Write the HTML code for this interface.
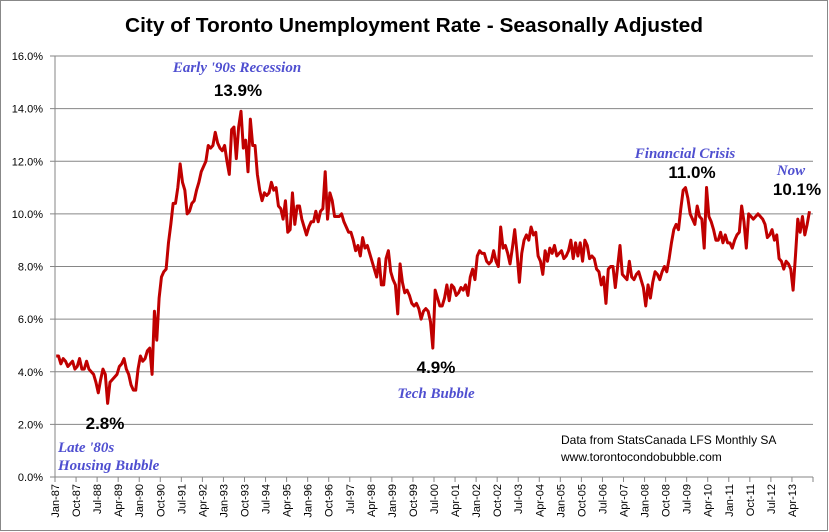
<!DOCTYPE html>
<html><head><meta charset="utf-8"><style>
html,body{margin:0;padding:0;background:#fff}
svg{display:block;font-family:"Liberation Sans",sans-serif}
</style></head><body>
<svg id="chart" width="829" height="532" viewBox="0 0 829 532" xmlns="http://www.w3.org/2000/svg">
<rect x="0.5" y="0.5" width="827" height="530" fill="#fff" stroke="#888" stroke-width="1"/>
<text x="414" y="32" text-anchor="middle" font-size="20" font-weight="bold" textLength="578" lengthAdjust="spacingAndGlyphs">City of Toronto Unemployment Rate - Seasonally Adjusted</text>
<g id="grid"></g>
<g id="yaxis"></g>
<g id="xaxis"></g>
<g id="series"></g>
<g font-family="Liberation Serif,serif" font-style="italic" font-weight="bold" fill="#4f4fd0" font-size="15">
<text x="237" y="72" text-anchor="middle">Early '90s Recession</text>
<text x="58" y="452">Late '80s</text>
<text x="58" y="470">Housing Bubble</text>
<text x="436" y="398" text-anchor="middle">Tech Bubble</text>
<text x="685" y="158" text-anchor="middle">Financial Crisis</text>
<text x="791" y="175" text-anchor="middle">Now</text>
</g>
<g font-weight="bold" font-size="17" fill="#000">
<text x="238" y="96" text-anchor="middle">13.9%</text>
<text x="105" y="429" text-anchor="middle">2.8%</text>
<text x="436" y="373" text-anchor="middle">4.9%</text>
<text x="692" y="178" text-anchor="middle">11.0%</text>
<text x="797" y="195" text-anchor="middle">10.1%</text>
</g>
<text x="561" y="444" font-size="12">Data from StatsCanada LFS Monthly SA</text>
<text x="561" y="461" font-size="12">www.torontocondobubble.com</text>
</svg>
<script>
const years = [1987,1988,1989,1990,1991,1992,1993,1994,1995,1996,1997,1998,1999,2000,2001,2002,2003,2004,2005,2006,2007,2008,2009,2010,2011,2012,2013];
const rate1987 = [4.6,4.6,4.3,4.5,4.4,4.2,4.3,4.4,4.1,4.2,4.5,4.1];
const rate1988 = [4.1,4.4,4.1,4.0,3.9,3.6,3.2,3.7,4.1,3.9,2.8,3.6];
const rate1989 = [3.7,3.8,3.9,4.2,4.3,4.5,4.1,3.9,3.5,3.3,3.3,4.1];
const rate1990 = [4.6,4.4,4.5,4.8,4.9,3.9,6.3,5.2,6.8,7.6,7.8,7.9];
const rate1991 = [8.9,9.6,10.4,10.4,11.0,11.9,11.2,10.9,10.0,10.1,10.4,10.5];
const rate1992 = [10.9,11.2,11.6,11.8,12.0,12.6,12.5,12.6,13.1,12.7,12.5,12.4];
const rate1993 = [12.6,12.0,11.5,13.2,13.3,12.1,13.3,13.9,12.5,12.8,11.6,13.6];
const rate1994 = [12.6,12.6,11.5,10.9,10.5,10.8,10.7,10.8,11.2,10.9,11.0,10.3];
const rate1995 = [10.2,9.8,10.5,9.3,9.4,10.8,9.6,10.3,10.3,9.8,9.5,9.2];
const rate1996 = [9.5,9.7,9.7,10.1,9.7,10.1,10.2,11.6,9.8,10.8,10.5,9.9];
const rate1997 = [9.9,9.9,10.0,9.7,9.5,9.3,9.3,9.0,8.6,8.8,8.4,9.1];
const rate1998 = [8.7,8.8,8.5,8.2,7.9,7.6,8.3,7.3,7.3,8.3,8.6,7.8];
const rate1999 = [7.5,7.3,6.2,8.1,7.4,7.0,7.1,6.9,6.6,6.5,6.6,6.4];
const rate2000 = [6.0,6.3,6.4,6.3,5.9,4.9,7.1,6.8,6.5,6.5,6.8,7.3];
const rate2001 = [6.7,7.3,7.2,6.9,7.0,7.2,7.1,7.3,6.9,7.6,7.9,7.5];
const rate2002 = [8.4,8.6,8.5,8.5,8.2,8.1,8.2,8.6,8.2,8.0,9.5,8.7];
const rate2003 = [8.8,8.5,8.1,8.7,9.4,8.5,7.4,8.5,9.0,9.2,9.0,9.5];
const rate2004 = [9.2,9.3,8.4,8.2,7.7,8.6,8.2,8.7,8.5,8.8,8.4,8.5];
const rate2005 = [8.6,8.3,8.4,8.6,9.0,8.3,8.9,8.4,8.9,8.2,9.0,8.8];
const rate2006 = [8.3,8.4,8.3,7.9,7.8,7.3,7.6,6.6,7.9,8.0,8.0,7.2];
const rate2007 = [8.0,8.8,7.7,7.6,7.5,8.2,7.6,7.5,7.7,7.8,7.5,7.2];
const rate2008 = [6.5,7.3,6.8,7.4,7.8,7.7,7.5,7.8,8.0,7.8,8.3,8.9];
const rate2009 = [9.4,9.6,9.4,10.2,10.9,11.0,10.6,10.0,9.8,9.6,10.3,9.9];
const rate2010 = [9.8,8.7,11.0,9.9,9.7,9.4,9.0,9.0,9.3,8.9,9.2,8.9];
const rate2011 = [8.9,8.7,9.0,9.2,9.3,10.3,9.7,8.7,10.0,9.9,9.8,9.9];
const rate2012 = [10.0,9.9,9.8,9.6,9.1,9.2,9.4,9.0,9.2,8.3,8.2,7.9];
const rate2013 = [8.2,8.1,7.9,7.1,8.4,9.8,9.3,9.9,9.2,9.6,10.1];
const yTicks = [0,2,4,6,8,10,12,14,16];
const monthNames = ["Jan","Feb","Mar","Apr","May","Jun","Jul","Aug","Sep","Oct","Nov","Dec"];

const values = [].concat(rate1987,rate1988,rate1989,rate1990,rate1991,rate1992,rate1993,rate1994,rate1995,rate1996,rate1997,rate1998,rate1999,rate2000,rate2001,rate2002,rate2003,rate2004,rate2005,rate2006,rate2007,rate2008,rate2009,rate2010,rate2011,rate2012,rate2013);
const NS="http://www.w3.org/2000/svg";
const X0=55, X1=813, Y0=477, Y1=56, slots=324;
const slotW=(X1-X0)/slots;
function xPos(i){return X0+(i+0.5)*slotW;}
function yPos(v){return Y0-(v/16)*(Y0-Y1);}
function mk(tag,attrs,parent){const e=document.createElementNS(NS,tag);for(const k in attrs)e.setAttribute(k,attrs[k]);parent.appendChild(e);return e;}
const grid=document.getElementById('grid'), ya=document.getElementById('yaxis'), xa=document.getElementById('xaxis'), ser=document.getElementById('series');
yTicks.forEach(t=>{
  const y=yPos(t);
  if(t>0){const g=mk('line',{x1:X0,x2:X1,y1:y,y2:y,stroke:'#868686','stroke-width':1},grid);
  
  }
  const tk=mk('line',{x1:X0-5,x2:X0,y1:y,y2:y,stroke:'#868686'},ya);
  
  
  const lb=mk('text',{x:X0-12,y:y+4,'text-anchor':'end','font-size':11},ya);
  
  
  lb.textContent=t.toFixed(1)+'%';
});
const ax=mk('line',{x1:X0,x2:X0,y1:Y1,y2:Y0,stroke:'#868686'},ya);


const bx=mk('line',{x1:X0,x2:X1,y1:Y0,y2:Y0,stroke:'#868686'},xa);


for(let i=0;i<=slots;i+=9){
  const x=X0+i*slotW;
  const tk=mk('line',{x1:x,x2:x,y1:Y0,y2:Y0+5,stroke:'#868686'},xa);
  
  
  if(i<slots){
    const yr=years[0]+Math.floor(i/12);
    const lab=monthNames[i%12]+'-'+String(yr).slice(2);
    const t=mk('text',{x:0,y:0,'font-size':11,'text-anchor':'end',transform:'translate('+(x+4)+','+(Y0+7)+') rotate(-90)'},xa);
    
    
    t.textContent=lab;
  }
}
const d=values.map((v,i)=>(i?'L':'M')+xPos(i).toFixed(2)+','+yPos(v).toFixed(2)).join(' ');
const p=mk('path',{d:d,fill:'none',stroke:'#c00000','stroke-width':3,'stroke-linejoin':'round'},ser);


</script>
</body></html>
